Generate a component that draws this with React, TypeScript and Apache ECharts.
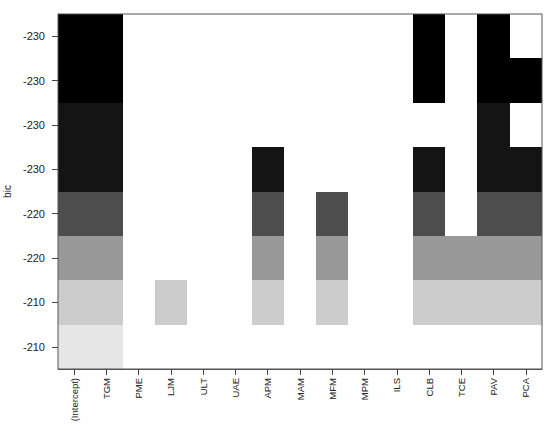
import React, { useEffect, useRef } from "react";
import * as echarts from "echarts";

const variables = [
  "(Intercept)", "TGM", "PME", "LJM", "ULT", "UAE", "APM", "MAM",
  "MFM", "MPM", "ILS", "CLB", "TCE", "PAV", "PCA",
];

// bic tick labels, top row to bottom row
const bicLabels = ["-230", "-230", "-230", "-230", "-220", "-220", "-210", "-210"];

// grey shade of each row (top to bottom)
const rowColors = ["#000000", "#000000", "#141414", "#141414", "#4d4d4d", "#999999", "#cccccc", "#e6e6e6"];

// inclusion of each variable in each model (top to bottom)
const inclusion = [
  [1, 1, 0, 0, 0, 0, 0, 0, 0, 0, 0, 1, 0, 1, 0],
  [1, 1, 0, 0, 0, 0, 0, 0, 0, 0, 0, 1, 0, 1, 1],
  [1, 1, 0, 0, 0, 0, 0, 0, 0, 0, 0, 0, 0, 1, 0],
  [1, 1, 0, 0, 0, 0, 1, 0, 0, 0, 0, 1, 0, 1, 1],
  [1, 1, 0, 0, 0, 0, 1, 0, 1, 0, 0, 1, 0, 1, 1],
  [1, 1, 0, 0, 0, 0, 1, 0, 1, 0, 0, 1, 1, 1, 1],
  [1, 1, 0, 1, 0, 0, 1, 0, 1, 0, 0, 1, 1, 1, 1],
  [1, 1, 0, 0, 0, 0, 0, 0, 0, 0, 0, 0, 0, 0, 0],
];

const FONT = "'Liberation Sans', Arial, sans-serif";

export default function App() {
  const ref = useRef<HTMLDivElement>(null);

  useEffect(() => {
    if (!ref.current) return;
    const chart = echarts.init(ref.current, undefined, { renderer: "svg" });

    const cells: number[][] = [];
    inclusion.forEach((row, r) => {
      row.forEach((v, c) => {
        if (v) cells.push([c, r]);
      });
    });

    chart.setOption({
      animation: false,
      backgroundColor: "#ffffff",
      grid: {
        left: 58,
        right: 8,
        top: 14,
        bottom: 62,
        containLabel: false,
        outerBoundsMode: "none",
        show: true,
        borderColor: "#555555",
        borderWidth: 1,
        backgroundColor: "transparent",
        z: 10,
      },
      xAxis: {
        type: "category",
        data: variables,
        boundaryGap: true,
        axisLine: { show: true, lineStyle: { color: "#555555", width: 1 } },
        axisTick: { show: true, alignWithLabel: true, length: 6, lineStyle: { color: "#444444" } },
        axisLabel: {
          rotate: 90,
          interval: 0,
          margin: 9,
          fontSize: 9.5,
          fontFamily: FONT,
          color: "#222222",
        },
        splitLine: { show: false },
      },
      yAxis: {
        type: "category",
        data: bicLabels.map((_, i) => String(i)),
        inverse: true,
        boundaryGap: true,
        name: "bic",
        nameLocation: "middle",
        nameRotate: 90,
        nameGap: 42,
        nameTextStyle: { fontSize: 10, fontFamily: FONT, color: "#222222" },
        axisLine: { show: true, lineStyle: { color: "#555555", width: 1 } },
        axisTick: { show: true, alignWithLabel: true, length: 6, lineStyle: { color: "#444444" } },
        axisLabel: {
          interval: 0,
          margin: 13,
          fontSize: 11,
          fontFamily: FONT,
          color: "#222222",
          formatter: (_v: string, idx: number) => bicLabels[idx],
        },
        splitLine: { show: false },
      },
      series: [
        {
          type: "custom",
          clip: true,
          data: cells,
          renderItem: (params: any, api: any) => {
            const c = api.value(0);
            const r = api.value(1);
            const center = api.coord([c, r]);
            const size = api.size([1, 1]);
            const x0 = Math.round(center[0] - size[0] / 2);
            const x1 = Math.round(center[0] + size[0] / 2);
            const y0 = Math.round(center[1] - size[1] / 2);
            const y1 = Math.round(center[1] + size[1] / 2);
            return {
              type: "rect",
              shape: { x: x0, y: y0, width: x1 - x0, height: y1 - y0 },
              style: { fill: rowColors[r], stroke: null, lineWidth: 0 },
            };
          },
        },
      ],
    });

    return () => chart.dispose();
  }, []);

  return (
    <div
      ref={ref}
      style={{ position: "absolute", left: 0, top: 0, width: 550, height: 431, background: "#fff" }}
    />
  );
}
